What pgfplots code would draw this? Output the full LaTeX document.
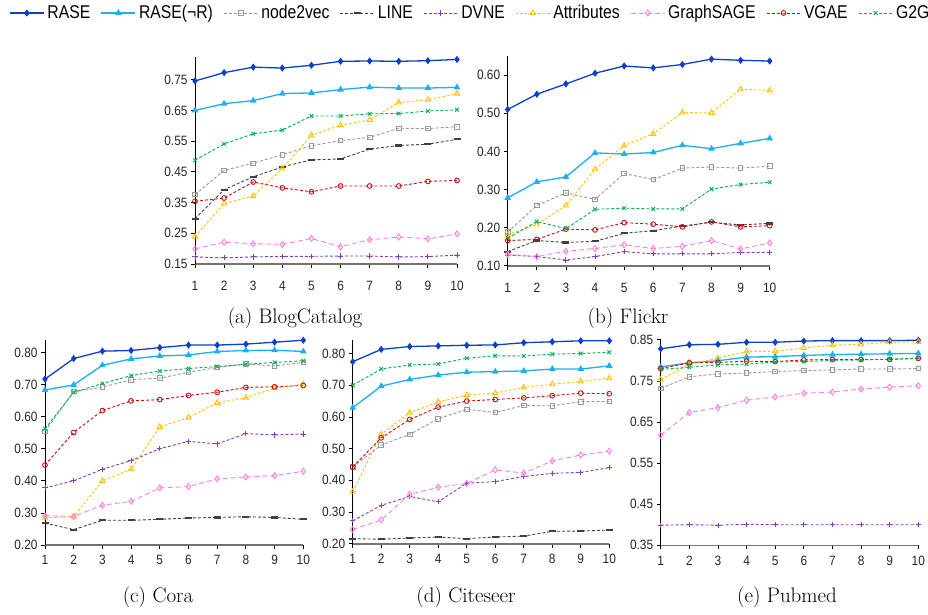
\documentclass[border=0pt]{standalone}
\usepackage{fontspec}
\usepackage{pgfplots}
\usepackage{pgfplotstable}
\pgfplotsset{compat=1.18}
\newfontfamily\arial[FakeStretch=0.88]{Liberation Sans}
\newfontfamily\arialn[FakeStretch=0.85]{Liberation Sans}

\definecolor{cRASE}{HTML}{0D3FCF}
\definecolor{cRnR}{HTML}{1AB0F0}
\definecolor{cN2V}{HTML}{999999}
\definecolor{cLINE}{HTML}{404040}
\definecolor{cDVNE}{HTML}{7F3FBF}
\definecolor{cATT}{HTML}{FFC000}
\definecolor{cGS}{HTML}{FF80DD}
\definecolor{cVGAE}{HTML}{C81010}
\definecolor{cG2G}{HTML}{00B050}

\pgfplotstableread{
x RASE RnR n2v LINE DVNE Attr GS VGAE G2G
1 0.746 0.650 0.376 0.297 0.173 0.239 0.199 0.354 0.488
2 0.773 0.672 0.455 0.392 0.170 0.347 0.221 0.365 0.541
3 0.791 0.682 0.478 0.434 0.173 0.371 0.216 0.417 0.574
4 0.788 0.705 0.506 0.466 0.175 0.461 0.214 0.398 0.586
5 0.797 0.707 0.535 0.489 0.175 0.569 0.233 0.385 0.632
6 0.810 0.718 0.552 0.492 0.176 0.602 0.206 0.404 0.632
7 0.811 0.726 0.562 0.524 0.176 0.619 0.229 0.404 0.639
8 0.810 0.723 0.592 0.536 0.173 0.676 0.238 0.404 0.640
9 0.812 0.723 0.591 0.540 0.174 0.685 0.232 0.419 0.648
10 0.816 0.725 0.597 0.556 0.179 0.705 0.248 0.422 0.652
}\blog
\pgfplotstableread{
x RASE RnR n2v LINE DVNE Attr GS VGAE G2G
1 0.510 0.278 0.188 0.137 0.128 0.181 0.130 0.166 0.172
2 0.550 0.320 0.258 0.166 0.124 0.208 0.124 0.169 0.216
3 0.577 0.333 0.291 0.161 0.115 0.258 0.138 0.196 0.197
4 0.605 0.396 0.274 0.164 0.124 0.353 0.145 0.194 0.248
5 0.624 0.393 0.342 0.185 0.137 0.415 0.155 0.213 0.251
6 0.619 0.397 0.326 0.192 0.131 0.446 0.145 0.209 0.249
7 0.628 0.416 0.356 0.204 0.131 0.502 0.151 0.202 0.249
8 0.642 0.407 0.359 0.214 0.131 0.501 0.166 0.215 0.301
9 0.639 0.421 0.356 0.207 0.135 0.563 0.144 0.202 0.313
10 0.637 0.434 0.361 0.211 0.135 0.560 0.160 0.205 0.319
}\flickr
\pgfplotstableread{
x RASE RnR n2v LINE DVNE Attr GS VGAE G2G
1 0.717 0.683 0.554 0.268 0.378 0.285 0.291 0.449 0.562
2 0.781 0.699 0.678 0.248 0.400 0.288 0.289 0.551 0.676
3 0.804 0.760 0.692 0.277 0.436 0.400 0.324 0.619 0.703
4 0.806 0.780 0.715 0.277 0.463 0.436 0.336 0.649 0.728
5 0.815 0.789 0.720 0.280 0.500 0.568 0.378 0.653 0.742
6 0.823 0.792 0.738 0.284 0.523 0.597 0.382 0.666 0.750
7 0.823 0.803 0.753 0.286 0.515 0.643 0.406 0.676 0.756
8 0.826 0.806 0.764 0.288 0.547 0.659 0.412 0.691 0.763
9 0.832 0.807 0.758 0.286 0.543 0.689 0.416 0.693 0.769
10 0.838 0.803 0.769 0.280 0.546 0.701 0.430 0.697 0.774
}\cora
\pgfplotstableread{
x RASE RnR n2v LINE DVNE Attr GS VGAE G2G
1 0.774 0.629 0.442 0.216 0.272 0.364 0.245 0.442 0.700
2 0.813 0.697 0.511 0.214 0.321 0.545 0.275 0.534 0.751
3 0.822 0.718 0.545 0.218 0.349 0.613 0.356 0.592 0.764
4 0.824 0.732 0.594 0.221 0.332 0.647 0.378 0.631 0.767
5 0.826 0.741 0.624 0.216 0.391 0.669 0.390 0.650 0.785
6 0.827 0.743 0.614 0.221 0.396 0.675 0.433 0.655 0.793
7 0.834 0.745 0.636 0.224 0.412 0.693 0.423 0.660 0.792
8 0.837 0.751 0.635 0.239 0.422 0.703 0.461 0.667 0.798
9 0.840 0.751 0.648 0.240 0.425 0.712 0.480 0.675 0.800
10 0.840 0.761 0.649 0.243 0.440 0.722 0.492 0.673 0.804
}\citeseer
\pgfplotstableread{
x RASE RnR n2v DVNE Attr GS VGAE G2G
1 0.828 0.784 0.732 0.399 0.753 0.618 0.780 0.778
2 0.838 0.794 0.760 0.400 0.791 0.673 0.794 0.783
3 0.839 0.799 0.767 0.399 0.805 0.685 0.795 0.789
4 0.844 0.808 0.769 0.401 0.822 0.703 0.798 0.791
5 0.844 0.809 0.773 0.400 0.822 0.711 0.797 0.796
6 0.847 0.812 0.775 0.400 0.830 0.720 0.801 0.797
7 0.848 0.814 0.777 0.400 0.837 0.723 0.802 0.800
8 0.848 0.815 0.779 0.400 0.839 0.730 0.802 0.801
9 0.848 0.816 0.779 0.400 0.844 0.735 0.802 0.803
10 0.849 0.817 0.780 0.400 0.845 0.738 0.805 0.805
}\pubmed

\pgfplotsset{
  sRASE/.style={cRASE, line width=1.3pt, mark=diamond*, mark size=2.6pt, mark options={solid, fill=cRASE}},
  sRnR/.style={cRnR, line width=1.3pt, mark=triangle*, mark size=2.6pt, mark options={solid, fill=cRnR}},
  sN2V/.style={cN2V, line width=0.9pt, dash pattern=on 3pt off 2pt, mark=square, mark size=2.3pt, mark options={solid, line width=0.9pt}},
  sLINE/.style={cLINE, line width=0.9pt, dash pattern=on 3pt off 2pt, mark=-, mark size=3.5pt, mark options={solid, line width=2.2pt}},
  sDVNE/.style={cDVNE, line width=0.9pt, dash pattern=on 3pt off 2pt, mark=+, mark size=2.6pt, mark options={solid, line width=0.9pt}},
  sATT/.style={cATT, line width=0.9pt, dash pattern=on 2.5pt off 2pt, mark=triangle, mark size=3pt, mark options={solid, line width=0.9pt}},
  sGS/.style={cGS, line width=0.9pt, dash pattern=on 5pt off 3pt, mark=diamond, mark size=3pt, mark options={solid, line width=0.9pt}},
  sVGAE/.style={cVGAE, line width=0.9pt, dash pattern=on 3pt off 2pt, mark=o, mark size=2.4pt, mark options={solid, line width=0.9pt}},
  sG2G/.style={cG2G, line width=0.9pt, dash pattern=on 3pt off 2pt, mark=x, mark size=2.6pt, mark options={solid, line width=0.9pt}},
  myaxis/.style={
    scale only axis,
    anchor=south west,
    xmin=1, xmax=10,
    xtick={1,2,3,4,5,6,7,8,9,10},
    axis x line*=bottom,
    axis y line*=left,
    x axis line style={draw=black!55, line width=1.6pt},
    y axis line style={black, line width=0.8pt},
    tick align=outside,
    major tick length=4pt,
    xtick style={black, line width=0.8pt},
    ytick style={black, line width=0.8pt},
    ticklabel style={font=\arial\fontsize{13.5}{15}\selectfont, text=black!85},
    x tick label style={yshift=-3pt},
    /pgf/number format/assume math mode=true,
    y tick label style={/pgf/number format/fixed, /pgf/number format/fixed zerofill, /pgf/number format/precision=2},
    clip=false,
  },
  toprow/.style={x tick label style={yshift=-7pt}},
}

\newcommand{\plotall}[1]{%
  \addplot[sRASE] table[x=x,y=RASE]{#1};
  \addplot[sRnR] table[x=x,y=RnR]{#1};
  \addplot[sN2V] table[x=x,y=n2v]{#1};
  \addplot[sLINE] table[x=x,y=LINE]{#1};
  \addplot[sDVNE] table[x=x,y=DVNE]{#1};
  \addplot[sATT] table[x=x,y=Attr]{#1};
  \addplot[sGS] table[x=x,y=GS]{#1};
  \addplot[sVGAE] table[x=x,y=VGAE]{#1};
  \addplot[sG2G] table[x=x,y=G2G]{#1};
}

\begin{document}
\begin{tikzpicture}
\path[use as bounding box] (0pt,0pt) rectangle (928pt,614pt);

% (a) BlogCatalog
\begin{axis}[myaxis, toprow, at={(195pt,350pt)}, width=262pt, height=207pt,
  ymin=0.15, ymax=0.824, ytick={0.15,0.25,0.35,0.45,0.55,0.65,0.75},
  legend columns=9,
  legend style={at={(-0.71,1.2126)}, anchor=west, draw=none, fill=none,
    font=\arialn\fontsize{18.5}{20}\selectfont,
    /tikz/every even column/.append style={column sep=8.5pt},
    /tikz/every odd column/.append style={column sep=1pt},
    inner sep=0pt},
  legend cell align=left,
  legend image code/.code={\draw[mark repeat=2,mark phase=2] plot coordinates {(0pt,0pt) (17pt,0pt) (34pt,0pt)};},
]
\plotall{\blog}
\legend{RASE, RASE(¬R), node2vec, LINE, DVNE, Attributes, GraphSAGE, VGAE, G2G}
\end{axis}

% (b) Flickr
\begin{axis}[myaxis, toprow, at={(507.7pt,348.3pt)}, width=262pt, height=209.6pt,
  ymin=0.10, ymax=0.65, ytick={0.1,0.2,0.3,0.4,0.5,0.6}]
\plotall{\flickr}
\end{axis}

% (c) Cora
\begin{axis}[myaxis, at={(45pt,69pt)}, width=258.3pt, height=205.4pt,
  ymin=0.2, ymax=0.84, ytick={0.2,0.3,0.4,0.5,0.6,0.7,0.8}]
\plotall{\cora}
\end{axis}

% (d) Citeseer
\begin{axis}[myaxis, at={(352.7pt,70.3pt)}, width=256.6pt, height=203.5pt,
  ymin=0.2, ymax=0.842, ytick={0.2,0.3,0.4,0.5,0.6,0.7,0.8}]
\plotall{\citeseer}
\end{axis}

% (e) Pubmed
\begin{axis}[myaxis, at={(660.7pt,68.7pt)}, width=257.6pt, height=205.5pt,
  ymin=0.35, ymax=0.85, ytick={0.35,0.45,0.55,0.65,0.75,0.85}]
  \addplot[sRASE] table[x=x,y=RASE]{\pubmed};
  \addplot[sRnR] table[x=x,y=RnR]{\pubmed};
  \addplot[sN2V] table[x=x,y=n2v]{\pubmed};
  \addplot[sDVNE] table[x=x,y=DVNE]{\pubmed};
  \addplot[sATT] table[x=x,y=Attr]{\pubmed};
  \addplot[sGS] table[x=x,y=GS]{\pubmed};
  \addplot[sVGAE] table[x=x,y=VGAE]{\pubmed};
  \addplot[sG2G] table[x=x,y=G2G]{\pubmed};
\end{axis}

\node[font=\fontsize{21}{25}\selectfont] at (295pt,296pt) {(a) BlogCatalog};
\node[font=\fontsize{21}{25}\selectfont] at (628pt,296pt) {(b) Flickr};
\node[font=\fontsize{21}{25}\selectfont] at (158pt,17pt) {(c) Cora};
\node[font=\fontsize{21}{25}\selectfont] at (466pt,17pt) {(d) Citeseer};
\node[font=\fontsize{21}{25}\selectfont] at (787pt,17pt) {(e) Pubmed};
\end{tikzpicture}
\end{document}
